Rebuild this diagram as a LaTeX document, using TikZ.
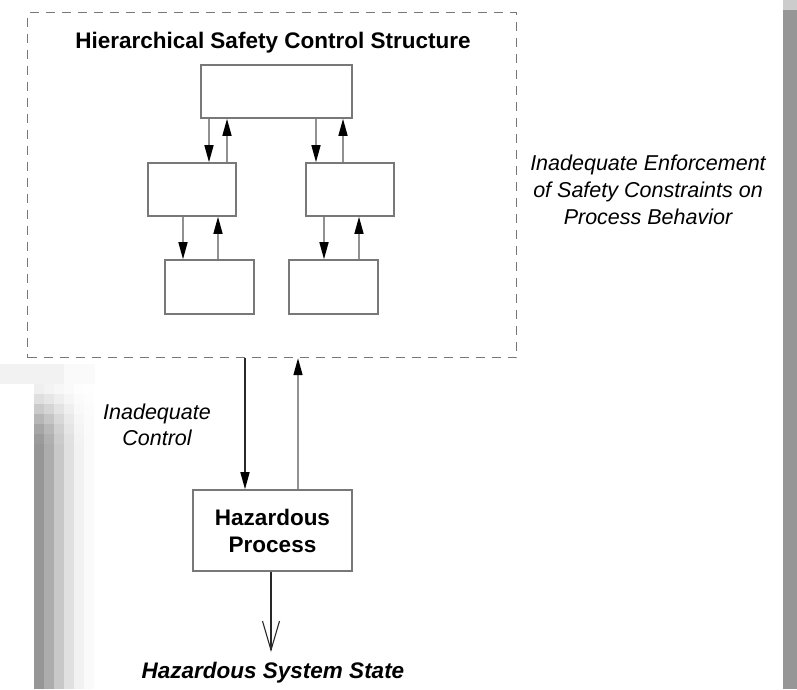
\documentclass[tikz,border=0pt]{standalone}
\usepackage{fontspec}
\setmainfont{Liberation Sans}
\usetikzlibrary{arrows.meta}
\definecolor{boxline}{RGB}{120,120,120}
\definecolor{arrowline}{RGB}{145,145,145}
\definecolor{darkline}{RGB}{40,40,40}
\definecolor{edgegrey}{RGB}{150,150,150}
\tikzset{
  blk/.style={draw=boxline, line width=1.6pt, fill=white, inner sep=0pt},
  ctl/.style={draw=arrowline, line width=1.5pt, -{Triangle[length=17pt,width=9pt,color=black]}},
  note/.style={font=\itshape\fontsize{21.5}{27}\selectfont, align=center, inner sep=0pt},
  heading/.style={font=\bfseries\fontsize{22.5}{27}\selectfont, inner sep=0pt},
}
\begin{document}
\begin{tikzpicture}[x=1pt, y=-1pt]
  \useasboundingbox (0,0) rectangle (797,689);
  \fill[white] (0,0) rectangle (797,689);

  % shaded page edges, left (blocky gradient) and right (flat bar)
  \fill[black!5] (0,364) rectangle (64,384);
  \fill[black!2] (64,364) rectangle (95,384);
  \foreach \b [count=\c from 0] in {150,172,200,224,242,250} {
    \foreach \f [count=\r from 0] in {0.85,0.7,0.5,0.3,0.15,0.05} {
      \pgfmathsetmacro\p{(255-\b)*(1-\f)/2.55}
      \fill[black!\p] (34+10*\c,384+10*\r) rectangle (44+10*\c,394+10*\r);
    }
    \pgfmathsetmacro\p{(255-\b)/2.55}
    \fill[black!\p] (34+10*\c,444) rectangle (44+10*\c,689);
  }
  \fill[edgegrey] (783,0) rectangle (797,689);
  \fill[black!20] (783,0) rectangle (797,10);

  % dashed enclosure of the control structure
  \node[draw=boxline, dashed, dash pattern=on 9pt off 7pt, line width=1.2pt,
        minimum width=489pt, minimum height=345pt, anchor=north west, inner sep=0pt]
        (hscs) at (27,12) {};
  \node[heading] (title) at (273,43) {Hierarchical Safety Control Structure};

  % controllers
  \node[blk, minimum width=151pt, minimum height=53pt] (top) at (276.5,91.5) {};
  \node[blk, minimum width=88pt, minimum height=53pt] (ml) at (192,189.5) {};
  \node[blk, minimum width=88pt, minimum height=53pt] (mr) at (350,189.5) {};
  \node[blk, minimum width=89pt, minimum height=54pt] (bl) at (209.5,287) {};
  \node[blk, minimum width=89pt, minimum height=54pt] (br) at (333.5,287) {};

  \draw[ctl] (top.south -| 209,0) -- (ml.north -| 209,0);
  \draw[ctl] (ml.north -| 227,0) -- (top.south -| 227,0);
  \draw[ctl] (top.south -| 316,0) -- (mr.north -| 316,0);
  \draw[ctl] (mr.north -| 343,0) -- (top.south -| 343,0);
  \draw[ctl] (ml.south -| 183,0) -- (bl.north -| 183,0);
  \draw[ctl] (bl.north -| 218,0) -- (ml.south -| 218,0);
  \draw[ctl] (mr.south -| 324,0) -- (br.north -| 324,0);
  \draw[ctl] (br.north -| 359,0) -- (mr.south -| 359,0);

  \node[note] (enf) at (648,190)
        {Inadequate Enforcement\\of Safety Constraints on\\Process Behavior};

  % controlled process
  \node[blk, minimum width=159pt, minimum height=81pt, heading, align=center]
        (proc) at (272.5,530.5) {Hazardous\\Process};
  \draw[ctl, draw=darkline] (hscs.south -| 245,0) -- (proc.north -| 245,0);
  \draw[ctl] (proc.north -| 298,0) -- (hscs.south -| 298,0);
  \node[note, font=\itshape\fontsize{21.5}{26}\selectfont] (ctlnote) at (157,425)
        {Inadequate\\Control};

  \coordinate (out) at (271,652);
  \draw[draw=darkline, line width=1.1pt,
        -{Straight Barb[length=29pt,width=17pt,line width=1.1pt]}]
        (proc.south -| out) -- (out);
  \node[heading, font=\bfseries\itshape\fontsize{22.5}{27}\selectfont] (hss) at (273,673)
        {Hazardous System State};
\end{tikzpicture}
\end{document}
